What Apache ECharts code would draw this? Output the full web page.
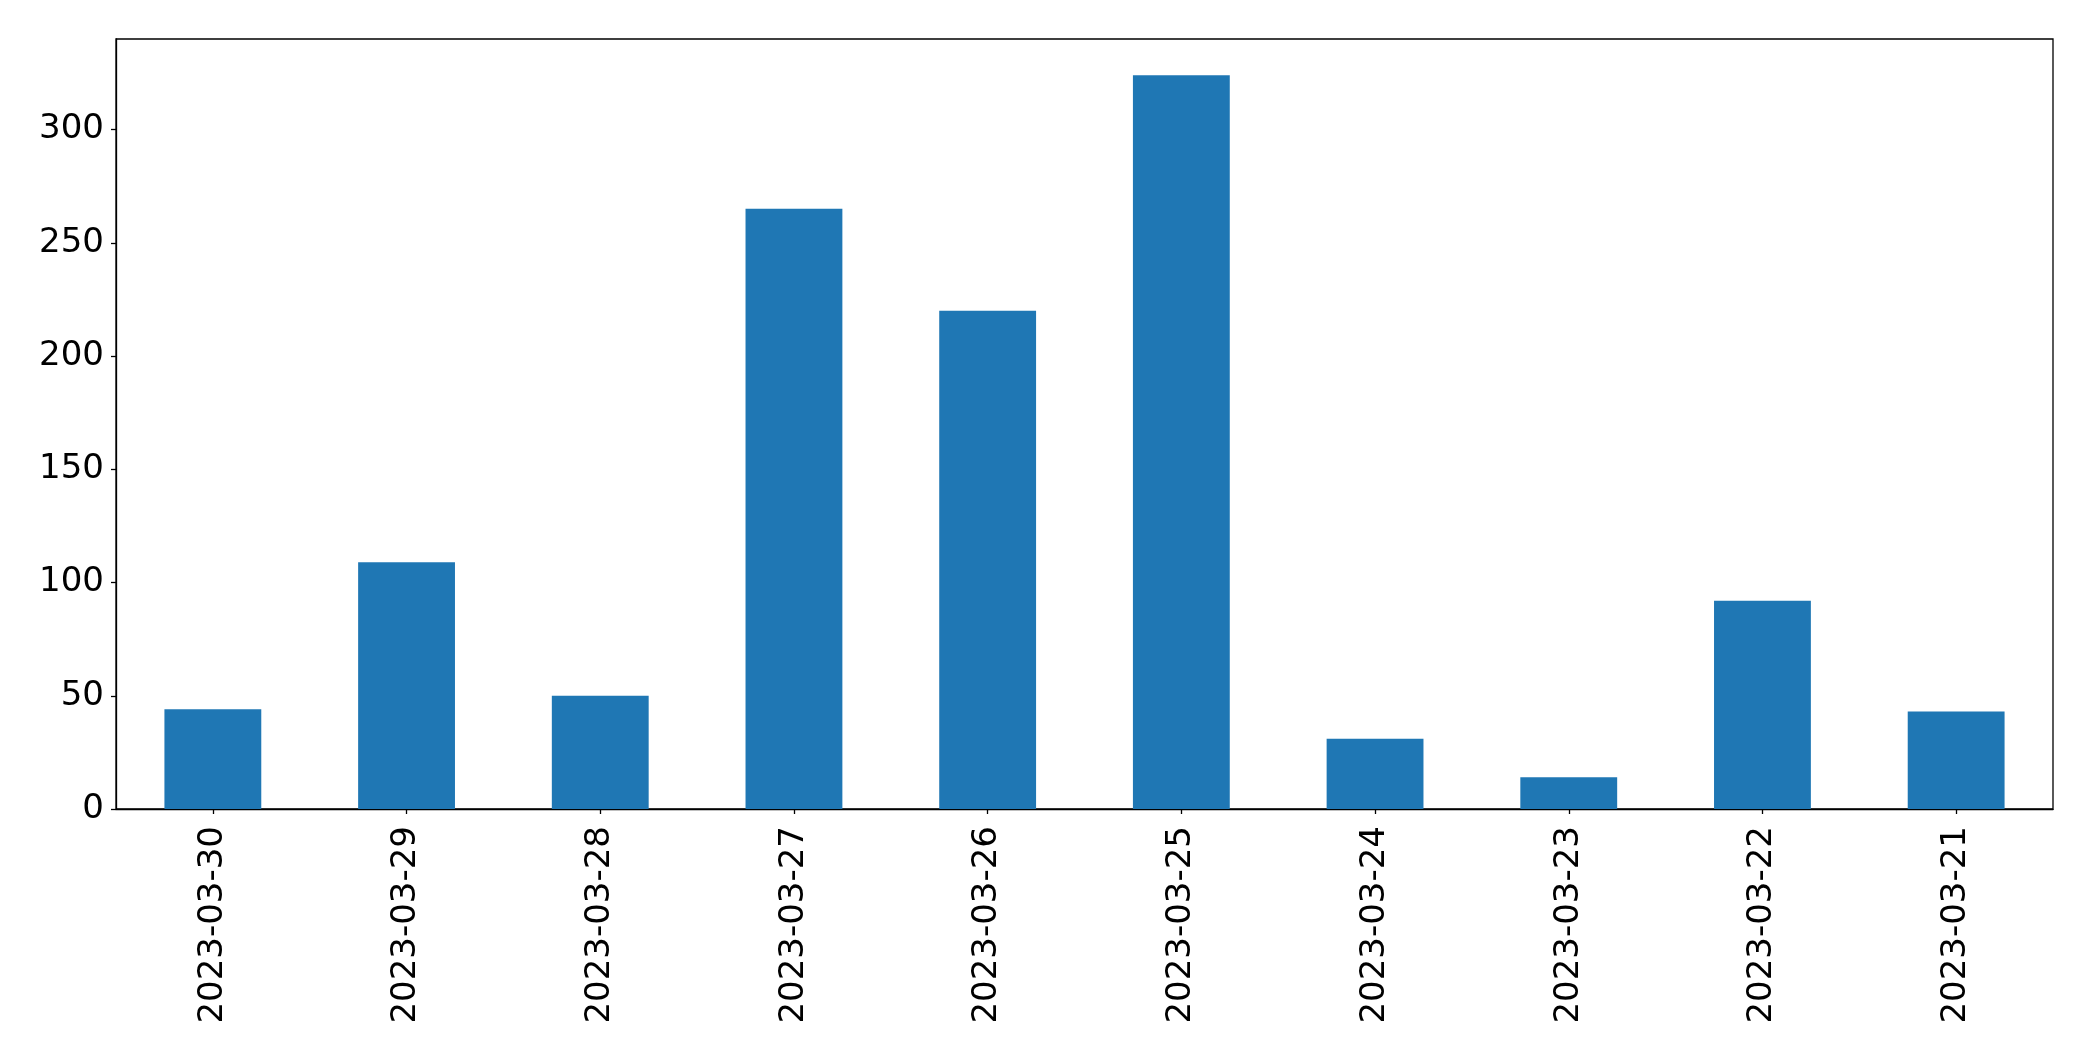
<!DOCTYPE html>
<html>
<head>
<meta charset="utf-8">
<script src="https://cdn.jsdelivr.net/npm/echarts@6/dist/echarts.min.js"></script>
<style>html,body{margin:0;padding:0;background:#fff;}#c{width:2093px;height:1061px;}</style>
</head>
<body>
<div id="c"></div>
<script>
const categories = ['2023-03-30','2023-03-29','2023-03-28','2023-03-27','2023-03-26','2023-03-25','2023-03-24','2023-03-23','2023-03-22','2023-03-21'];
const values = [44, 109, 50, 265, 220, 324, 31, 14, 92, 43];
const yTicks = [0, 50, 100, 150, 200, 250, 300];

const chart = echarts.init(document.getElementById('c'), null, {renderer: 'canvas'});
chart.setOption({
  animation: false,
  backgroundColor: '#ffffff',
  grid: {left: 116, right: 40, top: 39, bottom: 252, show: true, borderColor: '#000', borderWidth: 1.3, backgroundColor: 'transparent'},
  xAxis: {
    type: 'category',
    data: categories,
    boundaryGap: true,
    axisLine: {show: true, lineStyle: {color: '#000', width: 1.3}},
    axisTick: {show: true, alignWithLabel: true, length: 5, lineStyle: {color: '#000', width: 1.3}},
    axisLabel: {rotate: 90, margin: 17, color: '#000', fontSize: 34, fontFamily: 'DejaVu Sans', interval: 0}
  },
  yAxis: {
    type: 'value',
    min: 0,
    max: 340,
    interval: 50,
    splitLine: {show: false},
    axisLine: {show: true, lineStyle: {color: '#000', width: 1.3}},
    axisTick: {show: true, length: 5, lineStyle: {color: '#000', width: 1.3}, customValues: yTicks},
    axisLabel: {margin: 12, color: '#000', fontSize: 34, fontFamily: 'DejaVu Sans', customValues: yTicks}
  },
  series: [{
    type: 'bar',
    data: values,
    barWidth: '50%',
    itemStyle: {color: '#1f77b4'}
  }]
});
</script>
</body>
</html>
